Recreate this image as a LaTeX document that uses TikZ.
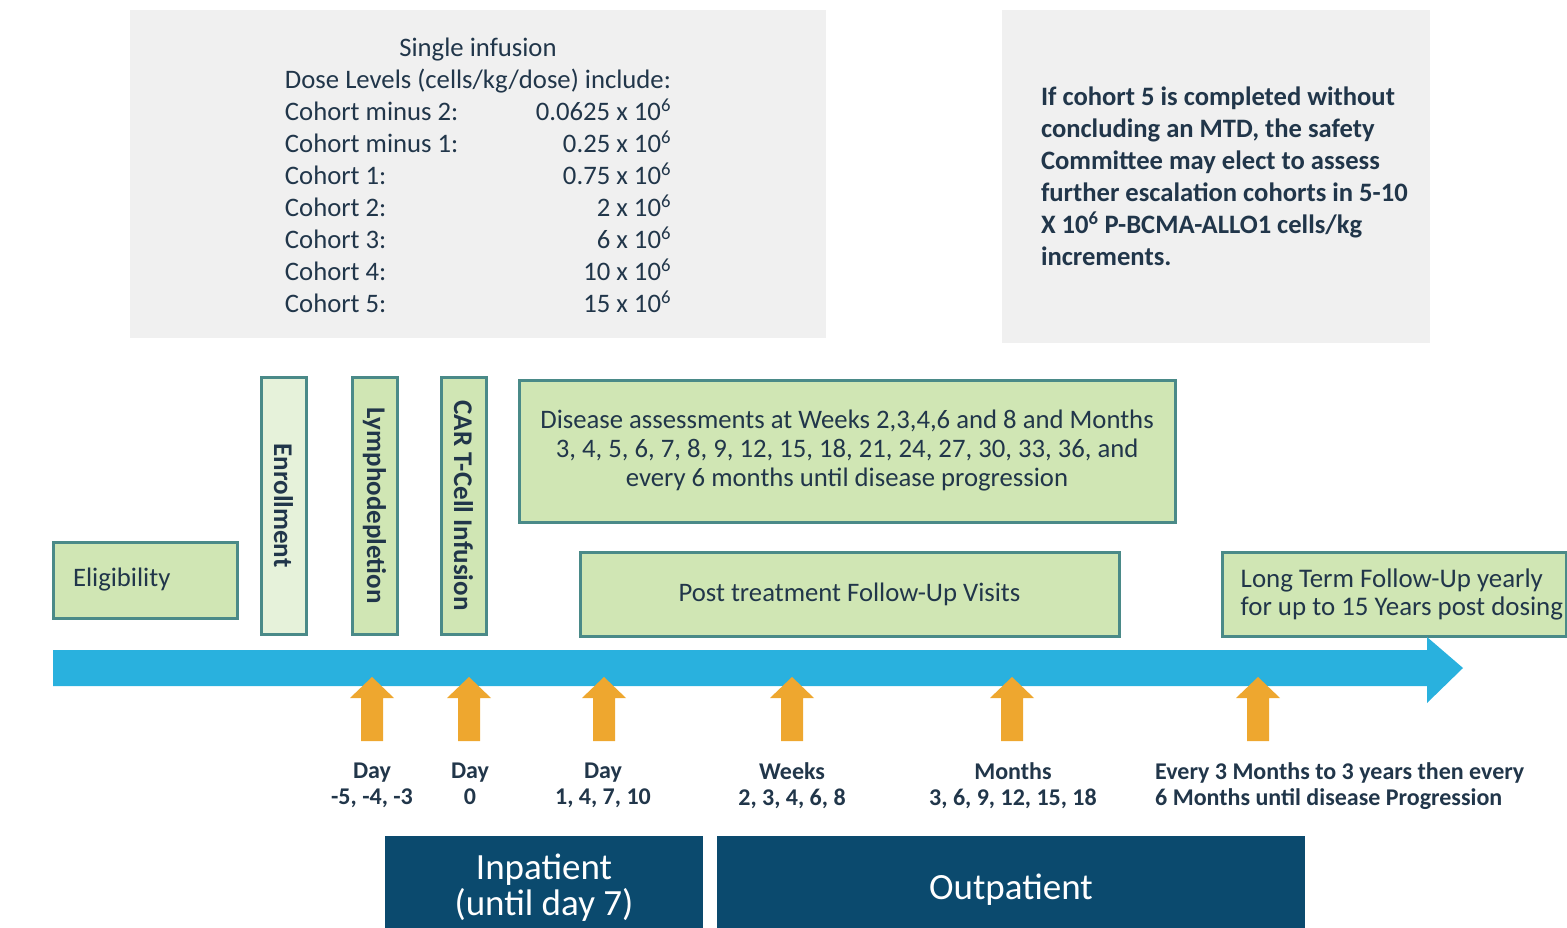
\documentclass[tikz,border=0pt]{standalone}
\usepackage{fontspec}
\setmainfont{Carlito}
\usetikzlibrary{positioning}

\definecolor{panelgray}{HTML}{F0F0F0}
\definecolor{leaf}{HTML}{D0E6B4}
\definecolor{paleleaf}{HTML}{E6F2DA}
\definecolor{tealrim}{HTML}{4A8A88}
\definecolor{timeline}{HTML}{29B1DE}
\definecolor{amber}{HTML}{EEA72F}
\definecolor{navy}{HTML}{0B4A6E}
\definecolor{ink}{HTML}{21364A}

\begin{document}
\begin{tikzpicture}
    [
        x=1pt, y=-1pt,
        every node/.style={text=ink},
        panel/.style={fill=panelgray, inner sep=0pt},
        phase/.style={draw=tealrim, line width=3pt, fill=leaf, inner sep=0pt, font=\fontsize{26.7}{32}\selectfont},
        upright/.style={phase, rotate=-90, minimum width=257, minimum height=45, font=\bfseries\fontsize{27}{32}\selectfont},
        visit/.style={anchor=north, align=center, inner sep=0pt, font=\bfseries\fontsize{24}{26}\selectfont},
        ward/.style={fill=navy, text=white, inner sep=0pt, align=center, font=\fontsize{37}{36}\selectfont},
    ]
    \useasboundingbox (0,0) rectangle (1567,928);

    % dose levels
    \node (dosebox) at (478,174) [panel, minimum width=696, minimum height=328] {};
    \node (doses) at ([yshift=-4pt]dosebox.center) [inner sep=0pt, font=\fontsize{26.7}{32}\selectfont]
    {\begin{tabular}{@{}lr@{}}
        \multicolumn{2}{@{}c@{}}{Single infusion}\\
        \multicolumn{2}{@{}l@{}}{Dose Levels (cells/kg/dose) include:}\\
        Cohort minus 2: & 0.0625 x 10\textsuperscript{6}\\
        Cohort minus 1: & 0.25 x 10\textsuperscript{6}\\
        Cohort 1:       & 0.75 x 10\textsuperscript{6}\\
        Cohort 2:       & 2 x 10\textsuperscript{6}\\
        Cohort 3:       & 6 x 10\textsuperscript{6}\\
        Cohort 4:       & 10 x 10\textsuperscript{6}\\
        Cohort 5:       & 15 x 10\textsuperscript{6}
    \end{tabular}};

    % escalation note
    \node (escalbox) at (1216,176.5) [panel, minimum width=428, minimum height=333] {};
    \node (escal) [right=39 of escalbox.west, inner sep=0pt, align=left, font=\bfseries\fontsize{26.6}{32}\selectfont]
    {If cohort 5 is completed without\\
     concluding an MTD, the safety\\
     Committee may elect to assess\\
     further escalation cohorts in 5-10\\
     X 10\textsuperscript{6} P-BCMA-ALLO1 cells/kg\\
     increments.};

    % study phases
    \node (elig)   at (145,580)     [phase, minimum width=184, minimum height=76, text width=144, inner xsep=20, align=left] {Eligibility};
    \node (enrol)  at (283.5,505.5) [upright, fill=paleleaf] {Enrollment};
    \node (lymph)  at (374.5,505.5) [upright] {Lymphodepletion};
    \node (infuse) at (463.5,505.5) [upright] {CAR T-Cell Infusion};

    \node (assess) at (847,451) [phase, minimum width=656, minimum height=142, align=center, font=\fontsize{26.7}{29}\selectfont]
    {Disease assessments at Weeks 2,3,4,6 and 8 and Months\\
     3, 4, 5, 6, 7, 8, 9, 12, 15, 18, 21, 24, 27, 30, 33, 36, and\\
     every 6 months until disease progression};
    \node (post)   at (849.5,594)   [phase, minimum width=539, minimum height=84] {Post treatment Follow-Up Visits};
    \node (ltfubox) at (1394,594)   [phase, minimum width=344, minimum height=84] {};
    \node (ltfu)   [right=20 of ltfubox.west, inner sep=0pt, align=left, font=\fontsize{26.9}{28}\selectfont]
    {Long Term Follow-Up yearly\\for up to 15 Years post dosing};

    % timeline
    \fill[timeline] (53,650) -- (1427,650) -- (1427,637) -- (1463,668) -- (1427,703) -- (1427,686) -- (53,686) -- cycle;

    \foreach \x in {372,469,604,792,1012,1258}
        \fill[amber] (\x-11,741) -- (\x-11,698) -- (\x-22,698) -- (\x,677) -- (\x+22,698) -- (\x+11,698) -- (\x+11,741) -- cycle;

    \node (v1) at (372,763)  [visit] {Day\\-5, -4, -3};
    \node (v2) at (470,763)  [visit] {Day\\0};
    \node (v3) at (603,763)  [visit] {Day\\1, 4, 7, 10};
    \node (v4) at (792,762)  [visit] {Weeks\\2, 3, 4, 6, 8};
    \node (v5) at (1013,762) [visit] {Months\\3, 6, 9, 12, 15, 18};
    \node (v6) at (1155,762) [visit, anchor=north west, align=left] {Every 3 Months to 3 years then every\\6 Months until disease Progression};

    % care setting
    \node (inpat)  at (544,888)  [ward, minimum width=318, minimum height=104] {Inpatient\\(until day 7)};
    \node (outpat) at (1011,890) [ward, minimum width=588, minimum height=108] {Outpatient};

\end{tikzpicture}
\end{document}
